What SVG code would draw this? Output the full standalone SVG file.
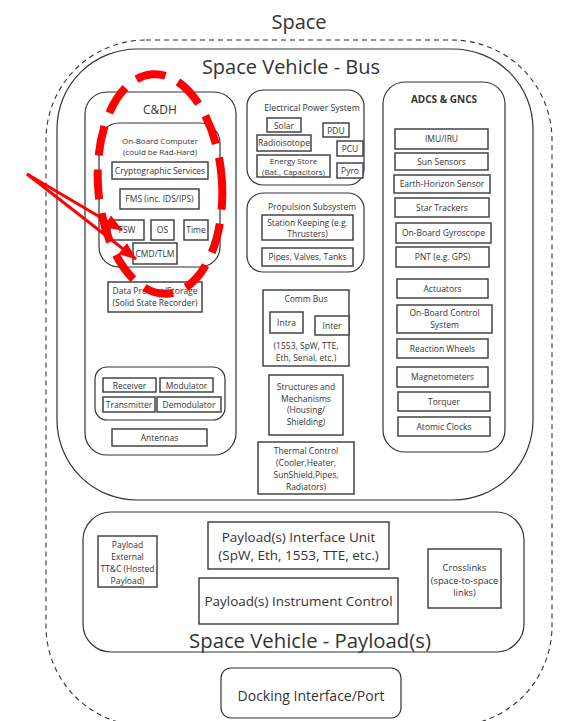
<svg xmlns="http://www.w3.org/2000/svg" width="565" height="721" viewBox="0 0 565 721">
  <defs>
    <style>
      .t{font-family:"Open Sans","Liberation Sans",sans-serif;fill:#333;text-anchor:middle}
      .c{fill:none;stroke:#333;stroke-width:1.2}
      .b{fill:#fff;stroke:#444;stroke-width:1.5}
      .s8{font-size:8px}
      .s9{font-size:8.5px}
      .red{stroke:#ff0000;fill:none}
    </style>
    <marker id="redHead" viewBox="0 0 18 14" refX="17" refY="7" markerWidth="18" markerHeight="14" markerUnits="userSpaceOnUse" orient="auto">
      <path d="M0,0 L18,7 L0,14 z" fill="#ff0000"/>
    </marker>
  </defs>
  <rect width="565" height="721" fill="#fff"/>

  <!-- outer environment -->
  <g id="space">
    <rect x="46" y="40" width="506" height="686" rx="100" ry="100" fill="none" stroke="#333" stroke-width="1.1" stroke-dasharray="5 4"/>
    <text class="t" x="299" y="29" font-size="20">Space</text>
  </g>

  <!-- spacecraft bus -->
  <g id="bus">
    <rect class="c" x="57" y="49" width="476" height="451" rx="80" ry="80"/>
    <text class="t" x="291" y="74" font-size="20">Space Vehicle - Bus</text>
  </g>

  <!-- command & data handling -->
  <g id="cdh">
    <rect class="c" x="85" y="92" width="151" height="363" rx="22"/>
    <text class="t" x="160" y="114" font-size="12">C&amp;DH</text>
  </g>
  <g id="obc">
    <rect class="c" x="99" y="123" width="121" height="144" rx="20"/>
    <text class="t s8" x="160" y="144">On-Board Computer</text>
    <text class="t s8" x="160" y="155">(could be Rad-Hard)</text>
  </g>
  <g id="crypto"><rect class="b" x="112" y="162" width="96" height="17"/><text class="t s9" x="160" y="173.5">Cryptographic Services</text></g>
  <g id="fms"><rect class="b" x="120" y="189" width="79" height="20"/><text class="t s9" x="159.5" y="202">FMS (inc. IDS/IPS)</text></g>
  <g id="fsw"><rect class="b" x="110" y="220" width="34" height="20"/><text class="t s9" x="127" y="233">FSW</text></g>
  <g id="os"><rect class="b" x="151" y="220" width="23" height="20"/><text class="t s9" x="162.5" y="233">OS</text></g>
  <g id="time"><rect class="b" x="184" y="220" width="24" height="20"/><text class="t s9" x="196" y="233">Time</text></g>
  <g id="cmdtlm"><rect class="b" x="133" y="243" width="44" height="21"/><text class="t s9" x="155" y="257">CMD/TLM</text></g>
  <g id="storage">
    <rect class="b" x="108" y="282" width="94" height="30"/>
    <text class="t s9" x="155" y="294">Data Process/Storage</text>
    <text class="t s9" x="155" y="306">(Solid State Recorder)</text>
  </g>
  <g id="radio">
    <rect class="c" x="95" y="367" width="130" height="53" rx="12"/>
  </g>
  <g id="receiver"><rect class="b" x="103" y="378" width="53" height="14"/><text class="t s9" x="129.5" y="388.5">Receiver</text></g>
  <g id="modulator"><rect class="b" x="160" y="378" width="53" height="14"/><text class="t s9" x="186.5" y="388.5">Modulator</text></g>
  <g id="transmitter"><rect class="b" x="103" y="397" width="52" height="15"/><text class="t s9" x="129" y="408">Transmitter</text></g>
  <g id="demodulator"><rect class="b" x="157" y="397" width="64" height="15"/><text class="t s9" x="189" y="408">Demodulator</text></g>
  <g id="antennas"><rect class="b" x="112" y="429" width="95" height="17"/><text class="t s9" x="159.5" y="441">Antennas</text></g>

  <!-- electrical power -->
  <g id="eps">
    <rect class="c" x="247" y="90" width="117" height="95" rx="16"/>
    <text class="t" x="312" y="111" font-size="8.7">Electrical Power System</text>
  </g>
  <g id="solar"><rect class="b" x="267" y="118" width="34" height="14"/><text class="t s9" x="284" y="128.5">Solar</text></g>
  <g id="pdu"><rect class="b" x="323" y="123" width="26" height="14"/><text class="t s9" x="336" y="133.5">PDU</text></g>
  <g id="radioisotope"><rect class="b" x="257" y="135" width="54" height="16"/><text class="t s9" x="284" y="146">Radioisotope</text></g>
  <g id="pcu"><rect class="b" x="337" y="141" width="26" height="15"/><text class="t s9" x="350" y="151.5">PCU</text></g>
  <g id="energy">
    <rect class="b" x="257" y="155" width="73" height="22"/>
    <text class="t s8" x="293.5" y="164">Energy Store</text>
    <text class="t s8" x="293.5" y="174.5">(Bat., Capacitors)</text>
  </g>
  <g id="pyro"><rect class="b" x="337" y="163" width="26" height="15"/><text class="t s9" x="350" y="173.5">Pyro</text></g>

  <!-- propulsion -->
  <g id="propulsion">
    <rect class="c" x="247" y="193" width="117" height="79" rx="16"/>
    <text class="t s9" x="312" y="210">Propulsion Subsystem</text>
  </g>
  <g id="stationkeeping">
    <rect class="b" x="262" y="215" width="91" height="25"/>
    <text class="t s9" x="307.5" y="225.5">Station Keeping (e.g.</text>
    <text class="t s9" x="307.5" y="236.5">Thrusters)</text>
  </g>
  <g id="pipes"><rect class="b" x="262" y="248" width="91" height="18"/><text class="t s9" x="307.5" y="260">Pipes, Valves, Tanks</text></g>

  <!-- comm bus -->
  <g id="commbus">
    <rect class="b" x="263" y="290" width="86" height="76"/>
    <text class="t s9" x="306" y="302">Comm Bus</text>
    <text class="t s9" x="306" y="349">(1553, SpW, TTE,</text>
    <text class="t s9" x="306" y="361">Eth, Serial, etc.)</text>
  </g>
  <g id="intra"><rect class="b" x="270" y="312" width="33" height="21"/><text class="t s9" x="286.5" y="325.5">Intra</text></g>
  <g id="inter"><rect class="b" x="315" y="316" width="34" height="19"/><text class="t s9" x="332" y="328.5">Inter</text></g>

  <g id="structures">
    <rect class="b" x="269" y="375" width="74" height="60"/>
    <text class="t s9" x="306" y="390">Structures and</text>
    <text class="t s9" x="306" y="401.5">Mechanisms</text>
    <text class="t s9" x="306" y="413">(Housing/</text>
    <text class="t s9" x="306" y="424.5">Shielding)</text>
  </g>
  <g id="thermal">
    <rect class="b" x="258" y="442" width="96" height="52"/>
    <text class="t s9" x="306" y="454">Thermal Control</text>
    <text class="t s9" x="306" y="466">(Cooler,Heater,</text>
    <text class="t s9" x="306" y="478">SunShield,Pipes,</text>
    <text class="t s9" x="306" y="490">Radiators)</text>
  </g>

  <!-- attitude / guidance -->
  <g id="adcs">
    <rect class="c" x="383" y="82" width="122" height="370" rx="22"/>
    <text class="t" x="444" y="103" font-size="10" font-weight="bold">ADCS &amp; GNCS</text>
  </g>
  <g id="imu"><rect class="b" x="395" y="129" width="93" height="20"/><text class="t s9" x="441.5" y="142">IMU/IRU</text></g>
  <g id="sun"><rect class="b" x="395" y="153" width="93" height="17"/><text class="t s9" x="441.5" y="164.5">Sun Sensors</text></g>
  <g id="earth"><rect class="b" x="394" y="175" width="96" height="18"/><text class="t s9" x="442" y="187">Earth-Horizon Sensor</text></g>
  <g id="star"><rect class="b" x="395" y="198" width="94" height="19"/><text class="t s9" x="442" y="210.5">Star Trackers</text></g>
  <g id="gyro"><rect class="b" x="396" y="223" width="95" height="20"/><text class="t s9" x="443.5" y="236">On-Board Gyroscope</text></g>
  <g id="pnt"><rect class="b" x="396" y="247" width="93" height="20"/><text class="t s9" x="442.5" y="260">PNT (e.g. GPS)</text></g>
  <g id="actuators"><rect class="b" x="397" y="279" width="91" height="19"/><text class="t s9" x="442.5" y="291.5">Actuators</text></g>
  <g id="obcs">
    <rect class="b" x="397" y="305" width="95" height="28"/>
    <text class="t s9" x="444.5" y="316">On-Board Control</text>
    <text class="t s9" x="444.5" y="328">System</text>
  </g>
  <g id="wheels"><rect class="b" x="397" y="339" width="91" height="19"/><text class="t s9" x="442.5" y="351.5">Reaction Wheels</text></g>
  <g id="magnetometers"><rect class="b" x="397" y="367" width="91" height="20"/><text class="t s9" x="442.5" y="380">Magnetometers</text></g>
  <g id="torquer"><rect class="b" x="398" y="392" width="92" height="19"/><text class="t s9" x="444" y="404.5">Torquer</text></g>
  <g id="clocks"><rect class="b" x="398" y="417" width="92" height="19"/><text class="t s9" x="444" y="429.5">Atomic Clocks</text></g>

  <!-- payload section -->
  <g id="payload">
    <rect class="c" x="83" y="512" width="441" height="140" rx="28"/>
    <text class="t" x="310" y="648" font-size="20.3">Space Vehicle - Payload(s)</text>
  </g>
  <g id="payloadttc">
    <rect class="b" x="98" y="536" width="59" height="51"/>
    <text class="t s9" x="127.5" y="548">Payload</text>
    <text class="t s9" x="127.5" y="560">External</text>
    <text class="t s9" x="127.5" y="572">TT&amp;C (Hosted</text>
    <text class="t s9" x="127.5" y="584">Payload)</text>
  </g>
  <g id="piu">
    <rect class="b" x="208" y="522" width="181" height="47"/>
    <text class="t" x="298.5" y="541.5" font-size="13.5">Payload(s) Interface Unit</text>
    <text class="t" x="298.5" y="560" font-size="13.5">(SpW, Eth, 1553, TTE, etc.)</text>
  </g>
  <g id="instrument">
    <rect class="b" x="199" y="578" width="199" height="46"/>
    <text class="t" x="298.5" y="606" font-size="13.5">Payload(s) Instrument Control</text>
  </g>
  <g id="crosslinks">
    <rect class="b" x="428" y="549" width="73" height="59"/>
    <text class="t" x="464.5" y="571" font-size="9.3">Crosslinks</text>
    <text class="t" x="464.5" y="584" font-size="9.3">(space-to-space</text>
    <text class="t" x="464.5" y="596" font-size="9.3">links)</text>
  </g>

  <g id="docking">
    <rect class="c" x="221" y="668" width="180" height="50" rx="10"/>
    <text class="t" x="311" y="701" font-size="14">Docking Interface/Port</text>
  </g>

  <!-- highlight overlay: dashed ring and pointers -->
  <g id="connectors">
    <ellipse class="red" cx="160" cy="184" rx="62" ry="110" stroke-width="8" stroke-dasharray="30 14" transform="rotate(-4 160 184)"/>
    <line class="red" x1="27" y1="174" x2="122" y2="230" stroke-width="3" marker-end="url(#redHead)"/>
    <line class="red" x1="27" y1="174" x2="136" y2="259" stroke-width="3" marker-end="url(#redHead)"/>
  </g>
</svg>
